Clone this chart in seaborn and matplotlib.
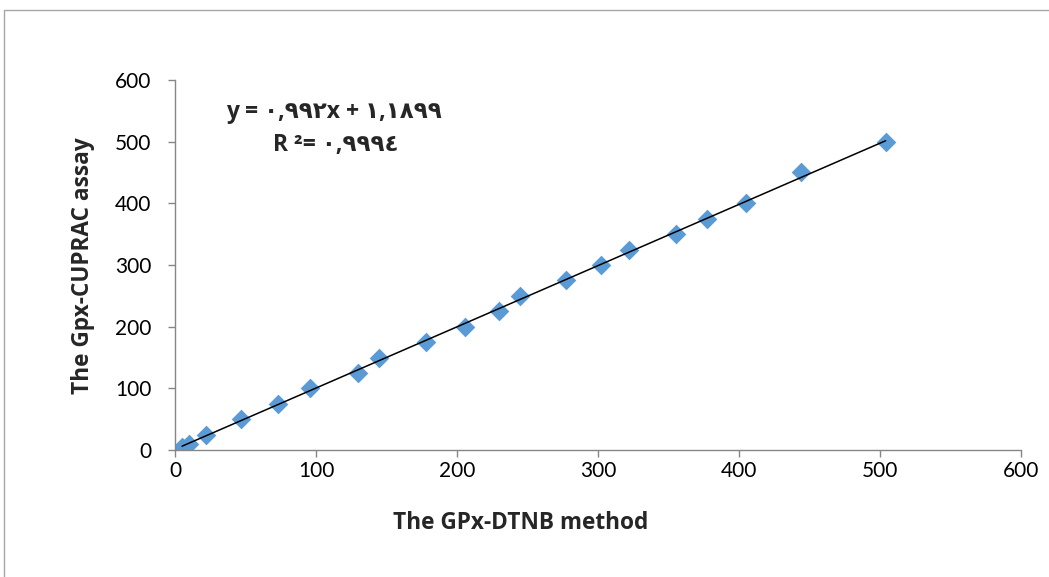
import matplotlib
matplotlib.use("Agg")
import matplotlib.pyplot as plt
from matplotlib.patches import Rectangle
import seaborn as sns
import pandas as pd

# Data
dtnb = [5, 10, 22, 47, 73, 96, 130, 145, 178, 206, 230, 245, 277, 302, 322, 355, 377, 405, 444, 504]
cuprac = [5, 10, 25, 50, 75, 100, 125, 150, 175, 200, 225, 250, 275, 300, 325, 350, 375, 400, 450, 500]
tick_values = [0, 100, 200, 300, 400, 500, 600]
x_label = "The GPx-DTNB method"
y_label = "The Gpx-CUPRAC assay"
eq_line1 = "y = \u0660,\u0669\u0669\u0662x + \u0661,\u0661\u0668\u0669\u0669"
eq_line2 = "R \u00b2= \u0660,\u0669\u0669\u0669\u0664"

df = pd.DataFrame({"dtnb": dtnb, "cuprac": cuprac})

sns.set_style("white")
plt.rcParams["font.family"] = ["Lato", "DejaVu Sans"]
bold_family = ["Open Sans", "DejaVu Sans"]

fig = plt.figure(figsize=(10.49, 5.77), dpi=100)
ax = fig.add_axes([175 / 1049, 1 - 450 / 577, 846 / 1049, 370 / 577])

sns.regplot(data=df, x="dtnb", y="cuprac", ax=ax, ci=None,
            marker="D",
            scatter_kws=dict(s=100, color="#5B9BD5", linewidths=0, alpha=1),
            line_kws=dict(color="black", linewidth=1.1))

ax.set_xlim(0, 600)
ax.set_ylim(0, 600)
ax.set_xticks(tick_values)
ax.set_yticks(tick_values)
ax.tick_params(axis="both", labelsize=15, length=5, width=1, color="#868686",
               direction="out", labelcolor="black")
ax.tick_params(axis="x", pad=3)
ax.tick_params(axis="y", pad=12)
ax.tick_params(axis="both", which="both", bottom=True, left=True)

for side in ["top", "right"]:
    ax.spines[side].set_visible(False)
for side in ["left", "bottom"]:
    ax.spines[side].set_color("#868686")
    ax.spines[side].set_linewidth(1)

ax.set_xlabel(x_label, fontsize=16.3, fontweight="bold", va="center", family=bold_family)
ax.set_ylabel(y_label, fontsize=16.3, fontweight="bold", va="center", family=bold_family)
ax.xaxis.set_label_coords((521 - 175) / 846, (450 - 523) / 370)
ax.yaxis.set_label_coords((83 - 175) / 846, (450 - 266) / 370)

ax.text(158.5 / 846, (450 - 112) / 370, eq_line1, transform=ax.transAxes,
        fontsize=16.5, fontweight="bold", ha="center", va="center",
        family=bold_family)
ax.text(161 / 846, (450 - 145) / 370, eq_line2, transform=ax.transAxes,
        fontsize=16.5, fontweight="bold", ha="center", va="center",
        family=bold_family)

# Chart-area border (partially visible)
fig.patches.append(Rectangle((4 / 1049, -0.1), 1.2, 1.1 - 10 / 577,
                             transform=fig.transFigure, fill=False,
                             edgecolor="#A6A6A6", linewidth=1))

fig.savefig("out.png", dpi=100)
